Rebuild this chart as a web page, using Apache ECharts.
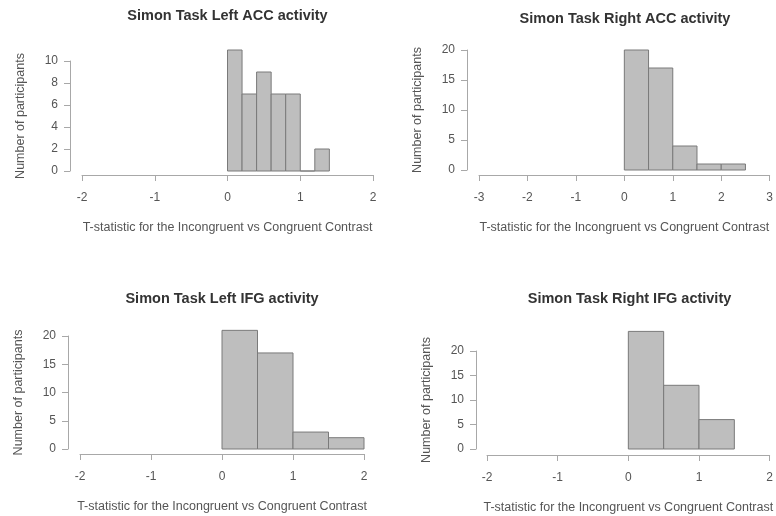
<!DOCTYPE html>
<html>
<head>
<meta charset="utf-8">
<script src="https://cdn.jsdelivr.net/npm/echarts@6/dist/echarts.min.js"></script>
<style>
  html, body { margin: 0; padding: 0; background: #fff; }
  #chart { width: 776px; height: 516px; }
</style>
</head>
<body>
<div id="chart"></div>
<script>
// data
var titles = ['Simon Task Left ACC activity', 'Simon Task Right ACC activity',
              'Simon Task Left IFG activity', 'Simon Task Right IFG activity'];
var xName = 'T-statistic for the Incongruent vs Congruent Contrast';
var yName = 'Number of participants';

var leftAccBreaks = [0, 0.2, 0.4, 0.6, 0.8, 1.0, 1.2, 1.4];
var leftAccCounts = [11, 7, 9, 7, 7, 0, 2];
var rightAccBreaks = [0, 0.5, 1.0, 1.5, 2.0, 2.5];
var rightAccCounts = [20, 17, 4, 1, 1];
var leftIfgBreaks = [0, 0.5, 1.0, 1.5, 2.0];
var leftIfgCounts = [21, 17, 3, 2];
var rightIfgBreaks = [0, 0.5, 1.0, 1.5];
var rightIfgCounts = [24, 13, 6];

// axis ranges: x [min, max], y [max, interval]
var xRanges = [[-2, 2], [-3, 3], [-2, 2], [-2, 2]];
var yRanges = [[10, 2], [20, 5], [20, 5], [20, 5]];

function bins(breaks, counts) {
    var out = [];
    for (var i = 0; i < counts.length; i++) {
        out.push([breaks[i], breaks[i + 1], counts[i]]);
    }
    return out;
}
var histData = [
    bins(leftAccBreaks, leftAccCounts),
    bins(rightAccBreaks, rightAccCounts),
    bins(leftIfgBreaks, leftIfgCounts),
    bins(rightIfgBreaks, rightIfgCounts)
];

// plotting regions (px) for the four panels
var grids = [
    {left: 82, top: 61, width: 291, height: 110},
    {left: 479, top: 50, width: 292, height: 120},
    {left: 80, top: 336, width: 284, height: 113},
    {left: 487, top: 351, width: 285, height: 98}
];
var titleTops = [8, 11, 291, 291];
var xOffsets = [4, 5, 5, 6];
var yOffsets = [12, 12, 12, 11];

var font = 'Liberation Sans';
var lineColor = '#a8a8a8';
var textColor = '#555';

var myChart = echarts.init(document.getElementById('chart'));

var option = {
    animation: false,
    title: [],
    grid: [],
    xAxis: [],
    yAxis: [],
    series: []
};

for (var k = 0; k < 4; k++) {
    var g = grids[k];
    option.grid.push({left: g.left, top: g.top, width: g.width, height: g.height});
    option.title.push({
        text: titles[k],
        left: g.left + g.width / 2,
        top: titleTops[k],
        padding: 0,
        textAlign: 'center',
        textStyle: {fontFamily: font, fontSize: 14.5, fontWeight: 'bold', color: '#333'}
    });
    option.xAxis.push({
        type: 'value',
        gridIndex: k,
        min: xRanges[k][0],
        max: xRanges[k][1],
        interval: 1,
        offset: xOffsets[k],
        name: xName,
        nameLocation: 'middle',
        nameGap: 46,
        nameTextStyle: {fontFamily: font, fontSize: 12.5, color: textColor},
        axisLine: {onZero: false, lineStyle: {color: lineColor, width: 1}},
        axisTick: {length: 6, lineStyle: {color: lineColor}},
        axisLabel: {fontFamily: font, fontSize: 12, color: textColor, margin: 17},
        splitLine: {show: false}
    });
    option.yAxis.push({
        type: 'value',
        gridIndex: k,
        min: 0,
        max: yRanges[k][0],
        interval: yRanges[k][1],
        offset: yOffsets[k],
        name: yName,
        nameLocation: 'middle',
        nameGap: 43,
        nameTextStyle: {fontFamily: font, fontSize: 12.5, color: textColor},
        axisLine: {show: true, onZero: false, lineStyle: {color: lineColor, width: 1}},
        axisTick: {show: true, length: 6, lineStyle: {color: lineColor}},
        axisLabel: {fontFamily: font, fontSize: 12, color: textColor, margin: 12},
        splitLine: {show: false}
    });
    option.series.push({
        type: 'custom',
        xAxisIndex: k,
        yAxisIndex: k,
        clip: false,
        data: histData[k],
        renderItem: function (params, api) {
            var p0 = api.coord([api.value(0), api.value(2)]);
            var p1 = api.coord([api.value(1), 0]);
            return {
                type: 'rect',
                shape: {x: p0[0], y: p0[1], width: p1[0] - p0[0], height: p1[1] - p0[1]},
                style: {fill: '#bebebe', stroke: '#7a7a7a', lineWidth: 1}
            };
        }
    });
}

myChart.setOption(option);
</script>
</body>
</html>
